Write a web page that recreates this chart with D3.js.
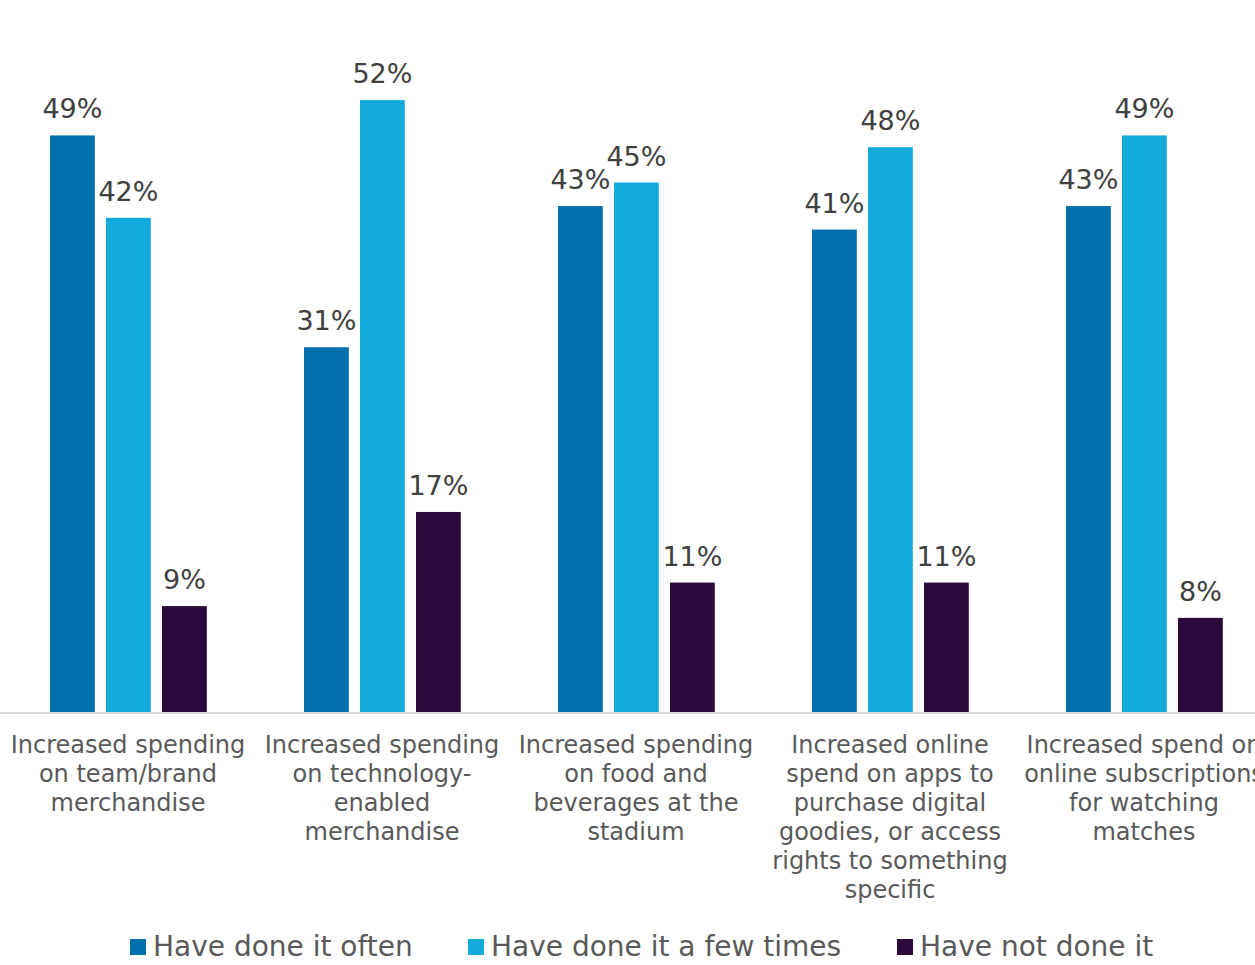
<!DOCTYPE html>
<html><head><meta charset="utf-8">
<script src="https://cdn.jsdelivr.net/npm/d3@7"></script>
<style>html,body{margin:0;padding:0;background:#fff;overflow:hidden}svg{display:block}</style>
</head><body>
<script>
const categories = [
  ["Increased spending","on team/brand","merchandise"],
  ["Increased spending","on technology-","enabled","merchandise"],
  ["Increased spending","on food and","beverages at the","stadium"],
  ["Increased online","spend on apps to","purchase digital","goodies, or access","rights to something","specific"],
  ["Increased spend on","online subscriptions","for watching","matches"]
];
const seriesNames = ["Have done it often","Have done it a few times","Have not done it"];
const often = [49, 31, 43, 41, 43];
const fewTimes = [42, 52, 45, 48, 49];
const notDone = [9, 17, 11, 11, 8];
const colors = ["#0070AD","#12ABDB","#2B0A3D"];

const W = 1255, H = 965;
const svg = d3.select("body").append("svg").attr("width", W).attr("height", H);
const font = "'DejaVu Sans', Verdana, sans-serif";

const x0 = d3.scaleBand().domain(d3.range(categories.length)).range([1, 1271]).padding(0);
const x1 = d3.scaleBand().domain(d3.range(3)).range([49, 49 + 156.8]).paddingInner(0.2).paddingOuter(0);
const y = d3.scaleLinear().domain([0, 60]).range([712, 6]);

const values = [often, fewTimes, notDone];
const rows = [];
categories.forEach((c, i) => values.forEach((s, j) => rows.push({ci: i, si: j, v: s[i]})));

svg.append("line").attr("x1", 0).attr("x2", W).attr("y1", y(0) + 1).attr("y2", y(0) + 1)
  .attr("stroke", "#D9D9D9").attr("stroke-width", 2);

svg.selectAll("rect.bar").data(rows).join("rect").attr("class", "bar")
  .attr("x", d => x0(d.ci) + x1(d.si))
  .attr("width", x1.bandwidth())
  .attr("y", d => y(d.v))
  .attr("height", d => y(0) - y(d.v))
  .attr("fill", d => colors[d.si]);

svg.selectAll("text.val").data(rows).join("text").attr("class", "val")
  .attr("x", d => x0(d.ci) + x1(d.si) + x1.bandwidth() / 2)
  .attr("y", d => y(d.v) - 17)
  .attr("text-anchor", "middle")
  .attr("font-family", font).attr("font-size", 27).attr("fill", "#404040")
  .text(d => d.v + "%");

const lab = svg.selectAll("text.cat").data(categories).join("text").attr("class", "cat")
  .attr("text-anchor", "middle")
  .attr("font-family", font).attr("font-size", 24).attr("fill", "#595959");
lab.each(function(lines, i) {
  d3.select(this).selectAll("tspan").data(lines).join("tspan")
    .attr("x", x0(i) + x0.bandwidth() / 2)
    .attr("y", (d, k) => 753 + k * 29)
    .text(d => d);
});

const legX = [130, 468, 897];
const leg = svg.selectAll("g.leg").data(seriesNames).join("g").attr("class", "leg");
leg.append("rect").attr("x", (d, i) => legX[i]).attr("y", 939).attr("width", 16).attr("height", 16)
  .attr("fill", (d, i) => colors[i]);
leg.append("text").attr("x", (d, i) => legX[i] + 23).attr("y", 956)
  .attr("font-family", font).attr("font-size", 28).attr("fill", "#595959")
  .text(d => d);
</script>
</body></html>
